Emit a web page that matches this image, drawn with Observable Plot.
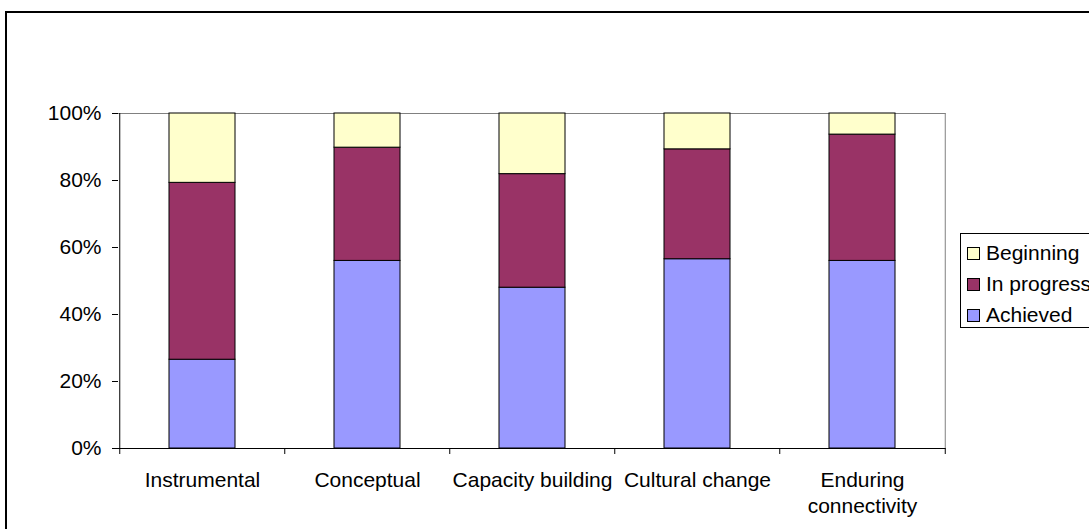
<!DOCTYPE html>
<html>
<head>
<meta charset="utf-8">
<script src="https://cdn.jsdelivr.net/npm/d3@7"></script>
<script src="https://cdn.jsdelivr.net/npm/@observablehq/plot@0.6"></script>
<style>
  html, body { margin: 0; padding: 0; background: #fff; overflow: hidden; }
  body { width: 1089px; height: 529px; position: relative; font-family: "Liberation Sans", Arial, sans-serif; }
  #chart svg { position: absolute; left: 0; top: 0; }
  #outline { position: absolute; left: 5px; top: 11px; width: 1120px; height: 560px; border: 2px solid #000; pointer-events: none; }
  #legend { position: absolute; left: 960px; top: 233px; width: 150px; height: 93px; border: 1px solid #000; background: #fff; font-size: 21px; color: #000; }
  #legend .row { position: absolute; left: 6px; height: 22px; display: flex; align-items: center; white-space: nowrap; }
  #legend .sw { width: 11px; height: 11px; border: 1px solid #000; margin-right: 6px; }
</style>
</head>
<body>
<div id="chart"></div>
<div id="legend"></div>
<div id="outline"></div>
<script>
// Outcome categories along the x axis
const categories = ["Instrumental", "Conceptual", "Capacity building", "Cultural change", "Enduring\nconnectivity"];

// Share of outcomes in each stage, per category (fractions of 100%)
const achieved   = [0.265, 0.560, 0.480, 0.565, 0.560];
const inProgress = [0.528, 0.338, 0.339, 0.328, 0.377];
const beginning  = [0.207, 0.102, 0.181, 0.107, 0.063];

// Stages, bottom to top of each stack, and their fills
const stages = ["Achieved", "In progress", "Beginning"];
const stageColors = ["#9999FF", "#993366", "#FFFFCC"];

// Y axis tick values
const yTicks = [0, 0.2, 0.4, 0.6, 0.8, 1];

// Long-format table for the stacked bars
const series = [achieved, inProgress, beginning];
const rows = [];
categories.forEach((c, i) => {
  stages.forEach((s, k) => rows.push({category: c, stage: s, value: series[k][i]}));
});

const W = 1089, H = 529;
const mL = 118, mR = 143.5, mT = 113, mB = 81;
const step = (W - mL - mR) / categories.length;

const chart = Plot.plot({
  width: W,
  height: H,
  marginLeft: mL,
  marginRight: mR,
  marginTop: mT,
  marginBottom: mB,
  style: {fontFamily: "'Liberation Sans', Arial, sans-serif", fontSize: "21px", color: "#000", background: "transparent", overflow: "visible"},
  x: {domain: categories, type: "band", paddingInner: 0.6, paddingOuter: 0.3, axis: null},
  y: {domain: [0, 1], ticks: yTicks, tickFormat: d3.format(".0%"), tickSize: 6, tickPadding: 11, label: null},
  color: {domain: stages, range: stageColors},
  marks: [
    // plot-area border (top and right, grey)
    Plot.ruleY([1], {stroke: "#808080", strokeWidth: 1}),
    Plot.ruleX([categories[categories.length - 1]], {y1: 0, y2: 1, dx: step / 2, stroke: "#808080"}),
    // stacked bars
    Plot.barY(rows, {x: "category", y: "value", fill: "stage", stroke: "#000", strokeWidth: 1}),
    // axis lines
    Plot.ruleY([0], {stroke: "#000"}),
    Plot.ruleX([categories[0]], {y1: 0, y2: 1, dx: -step / 2, stroke: "#000"}),
    // category boundary ticks below the x axis
    Plot.ruleX(categories, {y1: 0, y2: 0, dx: -step / 2, insetBottom: -6, stroke: "#000"}),
    Plot.ruleX([categories[categories.length - 1]], {y1: 0, y2: 0, dx: step / 2, insetBottom: -6, stroke: "#000"}),
    // category labels
    Plot.text(categories, {x: d => d, y: 0, text: d => d, dy: 20, lineAnchor: "top", lineHeight: 1.25, fill: "#000", fontSize: 21})
  ]
});
document.getElementById("chart").appendChild(chart);

// Legend: top-to-bottom lists the stack from top down
const legend = document.getElementById("legend");
const order = [2, 1, 0];
const rowTops = [8, 39, 70];
order.forEach((k, j) => {
  const row = document.createElement("div");
  row.className = "row";
  row.style.top = rowTops[j] + "px";
  const sw = document.createElement("span");
  sw.className = "sw";
  sw.style.background = stageColors[k];
  const label = document.createElement("span");
  label.textContent = stages[k];
  row.appendChild(sw);
  row.appendChild(label);
  legend.appendChild(row);
});
</script>
</body>
</html>
